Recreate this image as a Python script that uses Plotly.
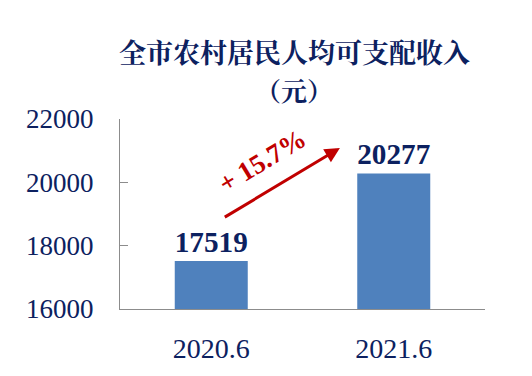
import plotly.graph_objects as go

categories = ["2020.6", "2021.6"]
values = [17519, 20277]
value_labels = ["17519", "20277"]
growth_label = "+ 15.7%"
title_line1 = "全市农村居民人均可支配收入"
title_line2 = "（元）"
y_ticks = [16000, 18000, 20000, 22000]
y_tick_text = ["16000", "18000", "20000", "22000"]

navy = "#0C2160"
red = "#C00000"
serif = "Liberation Serif, Times New Roman, serif"
cjk = "Noto Serif CJK SC, Noto Sans CJK SC, serif"

W, H = 532, 376
L, R, T, B = 120, 47, 119, 67
plot_h = H - T - B
plot_w = W - L - R


def py(px_from_top):
    return (H - B - px_from_top) / plot_h


def px(px_from_left):
    return (px_from_left - L) / plot_w


fig = go.Figure()
fig.add_trace(go.Bar(
    x=[0, 1], y=values, width=0.4,
    marker=dict(color="#4F81BD", line=dict(width=0)),
    text=value_labels, textposition="outside",
    textfont=dict(family=serif, size=33, color=navy),
    texttemplate="<b>%{text}</b>",
    cliponaxis=False, hoverinfo="skip",
))

annotations = [
    dict(x=0.705, y=21084, ax=0.066, ay=18873,
         xref="x", yref="y", axref="x", ayref="y",
         showarrow=True, arrowhead=2, arrowsize=1.0, arrowwidth=3,
         arrowcolor=red, text=""),
    dict(x=0.28, y=20680, xref="x", yref="y", showarrow=False,
         text="<b>" + growth_label + "</b>", textangle=-31,
         font=dict(family=serif, size=27, color=red)),
    dict(x=px(294), xref="paper", y=py(51), yref="paper", showarrow=False,
         yanchor="middle", text="<b>" + title_line1 + "</b>",
         font=dict(family=cjk, size=27, color=navy)),
    dict(x=px(294), xref="paper", y=py(89), yref="paper", showarrow=False,
         yanchor="middle", text="<b>" + title_line2 + "</b>",
         font=dict(family=cjk, size=26, color=navy)),
]

fig.update_layout(
    width=W, height=H,
    margin=dict(l=L, r=R, t=T, b=B),
    paper_bgcolor="white", plot_bgcolor="white",
    showlegend=False,
    annotations=annotations,
)

fig.update_xaxes(
    range=[-0.5, 1.5], tickvals=[0, 1], ticktext=categories,
    showline=True, linecolor="#8C8C8C", linewidth=1.2,
    ticks="", tickfont=dict(family=serif, size=28, color=navy),
    ticklabelstandoff=14, showgrid=False, zeroline=False, automargin=False,
)
fig.update_yaxes(
    range=[16000, 22000], tickvals=y_ticks, ticktext=y_tick_text,
    showline=True, linecolor="#8C8C8C", linewidth=1.2,
    ticks="inside", ticklen=8, tickcolor="#8C8C8C",
    tickfont=dict(family=serif, size=27, color=navy),
    ticklabelstandoff=20, showgrid=False, zeroline=False, automargin=False,
)

fig.write_html("out.html", config={"displayModeBar": False},
               post_script="document.body.style.margin='0';")
